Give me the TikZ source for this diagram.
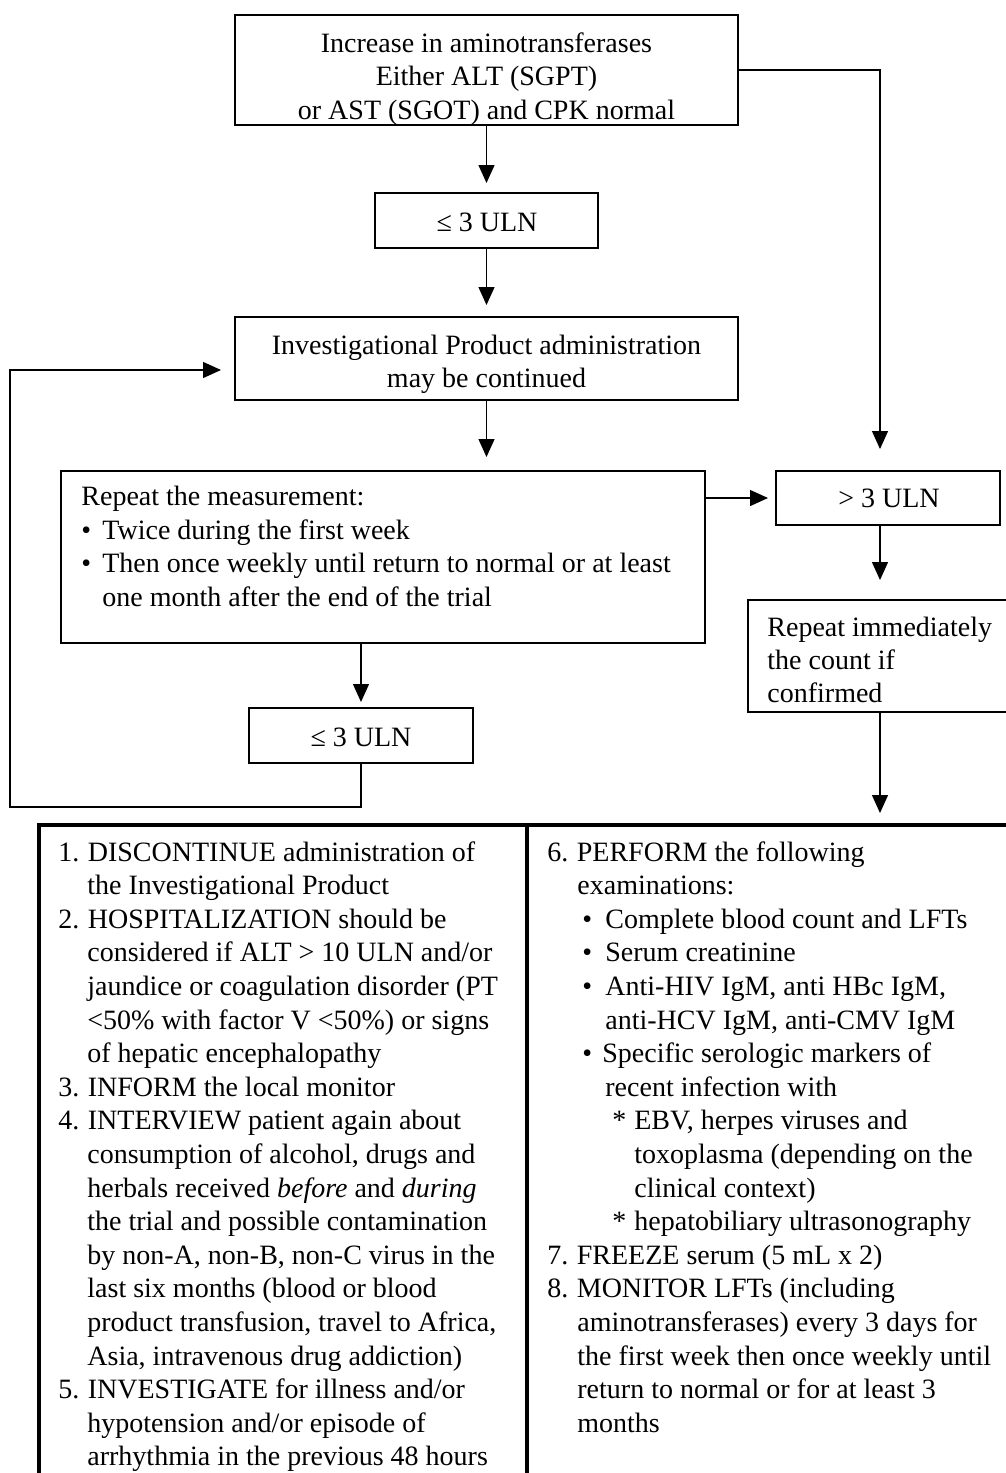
\documentclass[tikz,border=0pt]{standalone}
\usepackage{fontspec}
\setmainfont{Liberation Serif}
\usetikzlibrary{arrows.meta,fit}
% fixed-width label for list numbers and bullets
\newcommand{\nm}[2][14.75pt]{\makebox[#1][l]{#2}}
\begin{document}
\begin{tikzpicture}[x=0.5pt,y=-0.5pt,
  box/.style={draw, line width=1.2pt, inner sep=0pt, outer sep=0pt},
  area/.style={inner sep=0pt, outer sep=0pt},
  frame/.style={line width=1.7pt},
  conn/.style={line width=0.65pt, -{Triangle[length=9pt,width=8pt]}},
  txt/.style={inner sep=0pt, font=\fontsize{14}{16.8}\selectfont},
]
\useasboundingbox (0,0) rectangle (1006,1473);

% ---------- boxes ----------
\node[box, fit={(235,15) (738,125)}] (top) {};
\node[box, fit={(375,193) (598,248)}] (le1) {};
\node[box, fit={(235,317) (738,400)}] (cont) {};
\node[box, fit={(61,471) (705,643)}] (rep) {};
\node[box, fit={(776,471) (1000,525)}] (gt) {};
\node[box, fit={(249,708) (473,763)}] (le2) {};
\node[area, fit={(748,600) (1006,712)}] (rim) {};
\draw[line width=1.2pt] (rim.north east) -- (rim.north west) -- (rim.south west) -- (rim.south east);
\node[area, fit={(39,825) (1006,1473)}] (actions) {};
\draw[frame] (actions.south west) -- (actions.north west) -- (actions.north east);
\coordinate (split) at (527,825);
\draw[frame] (split) -- (split |- actions.south);

% ---------- box texts ----------
\node[txt, anchor=base] (t1) at (486.5,52) {Increase in aminotransferases};
\node[txt, anchor=base] (t2) at (486.5,85.5) {Either ALT (SGPT)};
\node[txt, anchor=base] (t3) at (486.5,119) {or AST (SGOT) and CPK normal};
\node[txt, anchor=base] (le1t) at (487,231) {≤ 3 ULN};
\node[txt, anchor=base] (c1) at (486.5,354) {Investigational Product administration};
\node[txt, anchor=base] (c2) at (486.5,387) {may be continued};
\node[txt, anchor=base west] (r1) at (81,505.5) {Repeat the measurement:};
\node[txt, anchor=base west] (r2) at (81,539) {\nm[10.5pt]{\textbullet}Twice during the first week};
\node[txt, anchor=base west] (r3) at (81,572.5) {\nm[10.5pt]{\textbullet}Then once weekly until return to normal or at least};
\node[txt, anchor=base west] (r4) at (102,606) {one month after the end of the trial};
\node[txt, anchor=base] (gtt) at (889,507) {> 3 ULN};
\node[txt, anchor=base] (le2t) at (361,746) {≤ 3 ULN};
\node[txt, anchor=base west] (m1) at (767,636) {Repeat immediately};
\node[txt, anchor=base west] (m2) at (767,669) {the count if};
\node[txt, anchor=base west] (m3) at (767,702) {confirmed};

% ---------- action lists ----------
\foreach \px/\tx [count=\i] in {
  58/{\nm{1.}DISCONTINUE administration of},
  87/{the Investigational Product},
  58/{\nm{2.}HOSPITALIZATION should be},
  87/{considered if ALT > 10 ULN and/or},
  87/{jaundice or coagulation disorder (PT},
  87/{<50\% with factor V <50\%) or signs},
  87/{of hepatic encephalopathy},
  58/{\nm{3.}INFORM the local monitor},
  58/{\nm{4.}INTERVIEW patient again about},
  87/{consumption of alcohol, drugs and},
  87/{herbals received \textit{before} and \textit{during}},
  87/{the trial and possible contamination},
  87/{by non-A, non-B, non-C virus in the},
  87/{last six months (blood or blood},
  87/{product transfusion, travel to Africa,},
  87/{Asia, intravenous drug addiction)},
  58/{\nm{5.}INVESTIGATE for illness and/or},
  87/{hypotension and/or episode of},
  87/{arrhythmia in the previous 48 hours}}
  \node[txt, anchor=base west] (L\i) at (\px,{861+33.6*(\i-1)}) {\tx};

\foreach \px/\tx [count=\i] in {
  547/{\nm{6.}PERFORM the following},
  577/{examinations:},
  582/{\nm[11.5pt]{\textbullet}Complete blood count and LFTs},
  582/{\nm[11.5pt]{\textbullet}Serum creatinine},
  582/{\nm[11.5pt]{\textbullet}Anti-HIV IgM, anti HBc IgM,},
  605/{anti-HCV IgM, anti-CMV IgM},
  582/{\nm[10pt]{\textbullet}Specific serologic markers of},
  605/{recent infection with},
  612/{\nm[11pt]{*}EBV, herpes viruses and},
  634/{toxoplasma (depending on the},
  634/{clinical context)},
  612/{\nm[11pt]{*}hepatobiliary ultrasonography},
  547/{\nm{7.}FREEZE serum (5 mL x 2)},
  547/{\nm{8.}MONITOR LFTs (including},
  577/{aminotransferases) every 3 days for},
  577/{the first week then once weekly until},
  577/{return to normal or for at least 3},
  577/{months}}
  \node[txt, anchor=base west] (R\i) at (\px,{861+33.6*(\i-1)}) {\tx};

% ---------- connectors ----------
\coordinate (rx) at (880,71);
\coordinate (loop) at (10,807);
\draw[conn, shorten >=5pt] (top.south) -- (le1.north);
\draw[conn, shorten >=6pt] (le1.south) -- (cont.north);
\draw[conn, shorten >=7pt] (cont.south) -- (cont.south |- rep.north);
\draw[conn, shorten >=4pt] (rep.east |- gt.west) -- (gt.west);
\draw[conn, shorten >=3pt] (le2.north |- rep.south) -- (le2.north);
\draw[conn, shorten >=7pt] (le2.south) |- (loop) |- ([yshift=-5.75pt]cont.west);
\draw[conn, shorten >=11pt] (top.east) -| (rx |- gt.north);
\draw[conn, shorten >=10pt] (rx |- gt.south) -- (rx |- rim.north);
\draw[conn, shorten >=6pt] (rx |- rim.south) -- (rx |- actions.north);
\end{tikzpicture}
\end{document}
